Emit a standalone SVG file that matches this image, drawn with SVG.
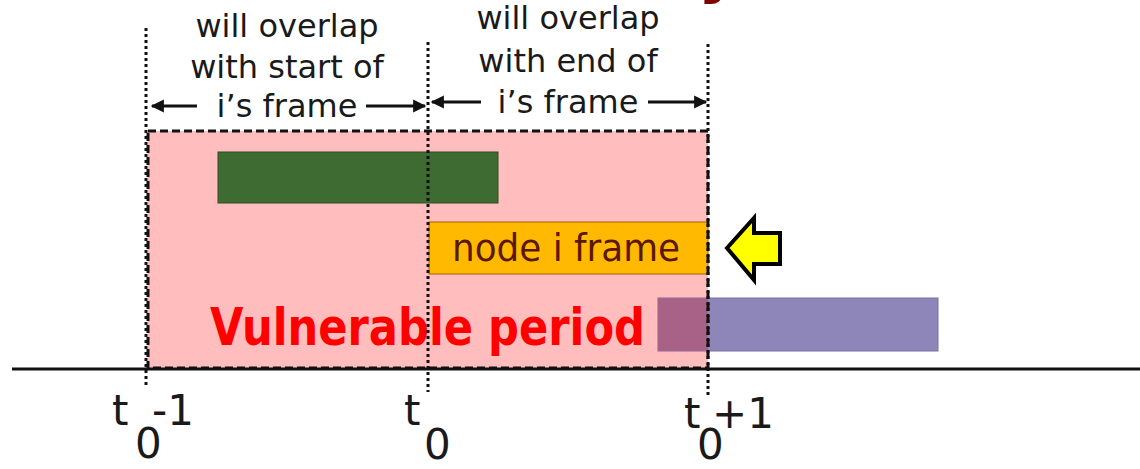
<svg xmlns="http://www.w3.org/2000/svg" width="1140" height="469" viewBox="0 0 1140 469">
<style>
.lbl{font-family:"DejaVu Sans","Liberation Sans",sans-serif;font-size:32px;fill:#1a1a1a;text-anchor:middle}
.tick{font-family:"DejaVu Sans","Liberation Sans",sans-serif;font-size:42px;fill:#1a1a1a}
.dot{stroke:#111;stroke-width:3;stroke-dasharray:3 3;fill:none}
.arr{stroke:#111;stroke-width:3;fill:none;marker-end:url(#ah)}
</style>
<defs>
<marker id="ah" viewBox="0 0 10 10" refX="9" refY="5" markerWidth="5" markerHeight="4.4" orient="auto" markerUnits="strokeWidth">
<path d="M0,0 L10,5 L0,10 z" fill="#111"/>
</marker>
</defs>
<rect width="1140" height="469" fill="#fff"/>
<text x="698" y="-10" font-family="DejaVu Sans, sans-serif" font-weight="bold" font-size="64" fill="#800000">y</text>
<g id="vulnerable-period">
<rect x="148" y="131" width="560" height="237" fill="#FFBDBD"/>
<text x="210" y="345" font-family="DejaVu Sans, sans-serif" font-weight="bold" font-size="52" fill="#FF0000" textLength="435" lengthAdjust="spacingAndGlyphs">Vulnerable period</text>
</g>
<g id="green-frame">
<rect x="218" y="152" width="280" height="51" fill="#3E6B31" stroke="#2c4e22" stroke-width="1"/>
</g>
<g id="node-i-frame">
<rect x="429" y="222" width="279" height="52" fill="#FFB900" stroke="#A86000" stroke-width="1"/>
<text x="452" y="261" font-family="DejaVu Sans, sans-serif" font-size="37" fill="#5a1800" textLength="228" lengthAdjust="spacingAndGlyphs">node i frame</text>
</g>
<g id="purple-frame">
<rect x="658" y="298" width="280" height="53" fill="#8E85B9" stroke="#7a72a0" stroke-width="1"/>
<rect x="658" y="298" width="50" height="53" fill="#A86287"/>
</g>
<g id="yellow-arrow">
<polygon points="727,248 754,218 754,233 780,233 780,264 754,264 754,280" fill="#FFFF00" stroke="#000" stroke-width="4" stroke-linejoin="miter"/>
</g>
<g id="connectors">
<rect x="148" y="131" width="560" height="237" fill="none" stroke="#111" stroke-width="3" stroke-dasharray="8 4"/>
<line x1="12" y1="369" x2="1140" y2="369" stroke="#111" stroke-width="3"/>
<line class="dot" x1="146" y1="28" x2="146" y2="388"/>
<line class="dot" x1="428" y1="42" x2="428" y2="392"/>
<line class="dot" x1="708" y1="44" x2="708" y2="395"/>
<line class="arr" x1="197" y1="106" x2="152" y2="106"/>
<line class="arr" x1="366" y1="106" x2="425" y2="106"/>
<line class="arr" x1="481" y1="102" x2="432" y2="102"/>
<line class="arr" x1="648" y1="102" x2="706" y2="102"/>
</g>
<g id="label-start">
<text class="lbl" x="287" y="37">will overlap</text>
<text class="lbl" x="287" y="78">with start of</text>
<text class="lbl" x="287" y="117">i’s frame</text>
</g>
<g id="label-end">
<text class="lbl" x="568" y="29">will overlap</text>
<text class="lbl" x="568" y="72">with end of</text>
<text class="lbl" x="568" y="113">i’s frame</text>
</g>
<g id="tick-t0-minus-1">
<text class="tick" x="112" y="425">t<tspan x="135" y="458">0</tspan><tspan x="152" y="425">-1</tspan></text>
</g>
<g id="tick-t0">
<text class="tick" x="404" y="425">t<tspan x="424" y="459">0</tspan></text>
</g>
<g id="tick-t0-plus-1">
<text class="tick" x="684" y="428">t<tspan x="697" y="459">0</tspan><tspan x="712" y="428">+1</tspan></text>
</g>
</svg>
